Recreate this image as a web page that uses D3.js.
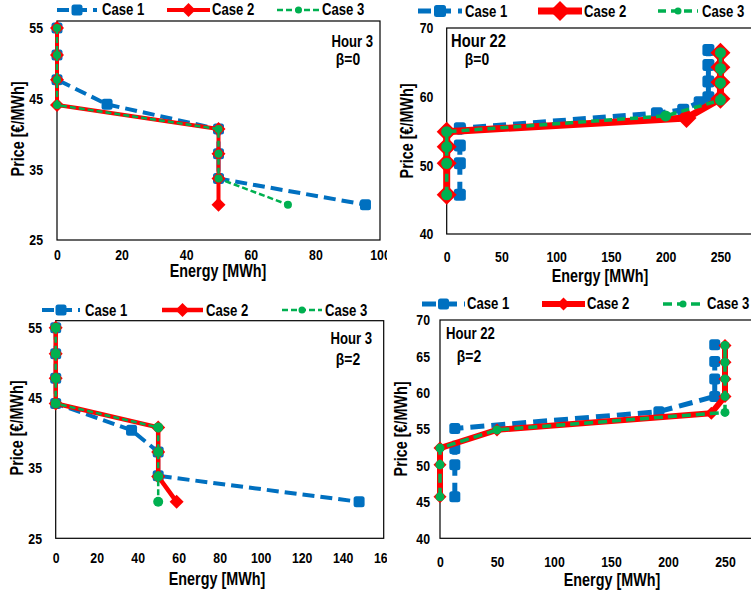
<!DOCTYPE html>
<html>
<head>
<meta charset="utf-8">
<script src="https://cdn.jsdelivr.net/npm/d3@7"></script>
<style>
  body { margin: 0; background: #fff; }
  svg text { font-family: "Liberation Sans", Arial, sans-serif; font-weight: bold; fill: #000; }
</style>
</head>
<body>
<svg id="chart" width="751" height="597"></svg>
<script>
// ---- data: [energy MWh, price €/MWh] ----
const caseNames = ["Case 1", "Case 2", "Case 3"];

// Hour 3, beta = 0
const h3b0Case1 = [[0,55],[0,51.2],[0,47.7],[15.5,44.2],[50,40.7],[50,37.2],[50,33.7],[95.5,30]];
const h3b0Case2 = [[0,55],[0,51.2],[0,47.7],[0,44.1],[50,40.7],[50,37.2],[50,33.7],[50,30]];
const h3b0Case3 = [[0,55],[0,51.2],[0,47.7],[0,44.1],[50,40.7],[50,37.2],[50,33.7],[71.5,30]];

// Hour 22, beta = 0
const h22b0Case1 = [[12,45.7],[12,50.3],[12,52.9],[12,55.4],[192,57.6],[216,58.1],[231,59.2],[239,59.9],[239,62.2],[239,64.6],[239,66.8]];
const h22b0Case2 = [[0,45.7],[0,50.3],[0,52.7],[0,54.9],[219,56.9],[250,59.7],[250,62.1],[250,64.3],[250,66.4]];
const h22b0Case3 = [[0,45.7],[0,50.3],[0,52.7],[0,54.9],[200,57.2],[250,59.5],[250,62],[250,64.1],[250,66.4]];

// Hour 3, beta = 2
const h3b2Case1 = [[0,55],[0,51.3],[0,47.8],[0,44.2],[37,40.4],[50,37.3],[50,33.9],[148,30.2]];
const h3b2Case2 = [[0,55],[0,51.3],[0,47.8],[0,44.2],[50,40.8],[50,37.3],[50,33.8],[59,30.2]];
const h3b2Case3 = [[0,55],[0,51.3],[0,47.8],[0,44.2],[50,40.8],[50,37.3],[50,33.8],[50,30.2]];

// Hour 22, beta = 2
const h22b2Case1 = [[13,45.7],[13,50.1],[13,52.3],[13,55.1],[192,57.4],[241,59.5],[241,61.9],[241,64.3],[241,66.6]];
const h22b2Case2 = [[0,45.7],[0,50.1],[0,52.4],[50,54.9],[238,57.2],[250,59.5],[250,61.9],[250,64.2],[250,66.5]];
const h22b2Case3 = [[0,45.7],[0,50.1],[0,52.4],[50,54.9],[250,57.3],[250,59.5],[250,61.9],[250,64.2],[250,66.5]];

// tick values (the 300 of the Hour 22 axes falls outside the picture)
const xTicksHour3b0 = [0, 20, 40, 60, 80, 100];
const xTicksHour3b2 = [0, 20, 40, 60, 80, 100, 120, 140, 160];
const xTicksHour22 = [0, 50, 100, 150, 200, 250];
const yTicksHour3 = [25, 35, 45, 55];
const yTicksHour22b0 = [40, 50, 60, 70];
const yTicksHour22b2 = [40, 45, 50, 55, 60, 65, 70];

const BLUE = "#0070C0", RED = "#FF0000", GREEN = "#00B050";
const TICK_SIZE = 15, TITLE_SIZE = 17.5, LEGEND_SIZE = 16;
const SQUEEZE = 0.82;   // the original uses a narrow bold face

const svg = d3.select("#chart");

// panel layouts (pixels), built around the arrays above
const panels = [
  {
    clip: [0, 0, 387, 290], series: [h3b0Case1, h3b0Case2, h3b0Case3],
    xDomain: [0, 100], xRange: [57, 380], yDomain: [25, 56], yRange: [240, 21],
    xTicks: xTicksHour3b0, yTicks: yTicksHour3, xBase: 260, yPad: 14,
    xTitle: [218, 277], yTitle: [23.5, 129],
    hour: {text: "Hour 3", x: 373, y: 46.5, anchor: "end", size: 16},
    beta: {text: "β=0", x: 348, y: 65, anchor: "middle", size: 17},
    legend: {y: 10, textY: 15, items: [[57, 97, 102], [167, 210, 212], [277, 320, 322]]},
    style: {w: [4, 4, 2.5], dash: ["12,6", null, "6,3"], blue: 11, dia: 7, r: 4}
  },
  {
    clip: [380, 0, 371, 290], series: [h22b0Case1, h22b0Case2, h22b0Case3],
    xDomain: [0, 300], xRange: [446.7, 775.2], yDomain: [40, 70], yRange: [234, 28],
    xTicks: xTicksHour22, yTicks: yTicksHour22b0, xBase: 261.7, yPad: 13.4,
    xTitle: [600, 282], yTitle: [413, 131],
    hour: {text: "Hour 22", x: 451, y: 46.5, anchor: "start", size: 18},
    beta: {text: "β=0", x: 477, y: 65, anchor: "middle", size: 17},
    legend: {y: 11, textY: 16.5, items: [[418, 462, 465], [538, 582, 584], [658, 698, 702]]},
    style: {w: [5, 7, 3.5], dash: ["13,7", null, "8,5"], blue: 12, dia: 10, r: 5.5}
  },
  {
    clip: [0, 290, 387, 307], series: [h3b2Case1, h3b2Case2, h3b2Case3],
    xDomain: [0, 160], xRange: [55.7, 383.7], yDomain: [25, 56], yRange: [538.3, 320.7],
    xTicks: xTicksHour3b2, yTicks: yTicksHour3, xBase: 563.3, yPad: 13.7,
    xTitle: [217, 585], yTitle: [23, 428],
    hour: {text: "Hour 3", x: 372, y: 344.3, anchor: "end", size: 16},
    beta: {text: "β=2", x: 348, y: 365, anchor: "middle", size: 17},
    legend: {y: 310, textY: 316, items: [[42, 80, 85], [162, 203, 206], [282, 322, 325]]},
    style: {w: [4, 4.5, 2.5], dash: ["12,6", null, "6,3"], blue: 11, dia: 7, r: 5}
  },
  {
    clip: [380, 290, 371, 307], series: [h22b2Case1, h22b2Case2, h22b2Case3],
    xDomain: [0, 300], xRange: [440, 782], yDomain: [40, 70], yRange: [538.3, 320],
    xTicks: xTicksHour22, yTicks: yTicksHour22b2, xBase: 567, yPad: 10,
    xTitle: [612, 585.5], yTitle: [407, 429],
    hour: {text: "Hour 22", x: 446, y: 339.3, anchor: "start", size: 16},
    beta: {text: "β=2", x: 469, y: 361.7, anchor: "middle", size: 17},
    legend: {y: 304, textY: 309.3, items: [[422, 465, 467], [542, 585, 587], [663, 703, 707]]},
    style: {w: [5, 6, 3.5], dash: ["14,7", null, "9,5"], blue: 11, dia: 6.5, r: 4.5}
  }
];

function diamondPath(s) {
  return `M0,${-s}L${s},0L0,${s}L${-s},0Z`;
}

// narrow text: squeezed horizontally around its anchor point
function narrowText(g, x, y, txt, size, anchor, rotate) {
  return g.append("text")
    .attr("transform", `translate(${x},${y})${rotate ? " rotate(-90)" : ""} scale(${SQUEEZE},1)`)
    .attr("text-anchor", anchor || "start")
    .attr("font-size", size)
    .text(txt);
}

// one marker, drawn at (0,0) inside g
function drawMarker(g, idx, st) {
  if (idx === 0) {
    const b = st.blue;
    g.append("rect")
      .attr("x", -b / 2).attr("y", -b / 2)
      .attr("width", b).attr("height", b)
      .attr("rx", 2.5)
      .attr("fill", BLUE);
  } else if (idx === 1) {
    g.append("path")
      .attr("d", diamondPath(st.dia))
      .attr("fill", RED);
  } else {
    g.append("circle")
      .attr("r", st.r)
      .attr("fill", GREEN);
  }
}

function drawPanel(p, k) {
  const colors = [BLUE, RED, GREEN];
  const st = p.style;

  svg.append("clipPath").attr("id", "clip" + k)
    .append("rect")
      .attr("x", p.clip[0]).attr("y", p.clip[1])
      .attr("width", p.clip[2]).attr("height", p.clip[3]);

  const g = svg.append("g").attr("clip-path", `url(#clip${k})`);

  const xScale = d3.scaleLinear().domain(p.xDomain).range(p.xRange);
  const yScale = d3.scaleLinear().domain(p.yDomain).range(p.yRange);

  // plot frame
  g.append("rect")
    .attr("x", p.xRange[0]).attr("y", p.yRange[1])
    .attr("width", p.xRange[1] - p.xRange[0])
    .attr("height", p.yRange[0] - p.yRange[1])
    .attr("fill", "none")
    .attr("stroke", "#000")
    .attr("stroke-width", 1.2);

  // axes (labels only, the frame is the axis line)
  const xPad = p.xBase - p.yRange[0] - 0.71 * TICK_SIZE;
  const xAxis = d3.axisBottom(xScale).tickValues(p.xTicks).tickSize(0).tickPadding(xPad);
  const yAxis = d3.axisLeft(yScale).tickValues(p.yTicks).tickSize(0).tickPadding(p.yPad);

  g.append("g")
    .attr("transform", `translate(0,${p.yRange[0]})`)
    .call(xAxis)
    .call(a => a.select(".domain").remove())
    .selectAll("text")
      .attr("font-size", TICK_SIZE)
      .attr("transform", `scale(${SQUEEZE},1)`);

  g.append("g")
    .attr("transform", `translate(${p.xRange[0]},0)`)
    .call(yAxis)
    .call(a => a.select(".domain").remove())
    .selectAll("text")
      .attr("font-size", TICK_SIZE)
      .attr("x", -p.yPad / SQUEEZE)
      .attr("transform", `scale(${SQUEEZE},1)`);

  // axis titles
  narrowText(g, p.xTitle[0], p.xTitle[1], "Energy [MWh]", TITLE_SIZE, "middle");
  narrowText(g, p.yTitle[0], p.yTitle[1], "Price [€/MWh]", TITLE_SIZE, "middle", true);

  // hour / beta notes
  [p.hour, p.beta].forEach(n => {
    narrowText(g, n.x, n.y, n.text, n.size, n.anchor);
  });

  // series
  const line = d3.line()
    .x(d => xScale(d[0]))
    .y(d => yScale(d[1]));

  p.series.forEach((data, i) => {
    g.append("path")
      .datum(data)
      .attr("d", line)
      .attr("fill", "none")
      .attr("stroke", colors[i])
      .attr("stroke-width", st.w[i])
      .attr("stroke-linejoin", "round")
      .attr("stroke-dasharray", st.dash[i]);

    g.selectAll(".m" + i)
      .data(data)
      .enter()
      .append("g")
        .attr("class", "m" + i)
        .attr("transform", d => `translate(${xScale(d[0])},${yScale(d[1])})`)
        .each(function() { drawMarker(d3.select(this), i, st); });
  });

  // legend
  p.legend.items.forEach((it, i) => {
    g.append("line")
      .attr("x1", it[0]).attr("x2", it[1])
      .attr("y1", p.legend.y).attr("y2", p.legend.y)
      .attr("stroke", colors[i])
      .attr("stroke-width", st.w[i])
      .attr("stroke-dasharray", st.dash[i]);

    const mg = g.append("g")
      .attr("transform", `translate(${(it[0] + it[1]) / 2},${p.legend.y})`);
    drawMarker(mg, i, i === 2 ? Object.assign({}, st, {r: 3.5}) : st);

    narrowText(g, it[2], p.legend.textY, caseNames[i], LEGEND_SIZE, "start");
  });
}

panels.forEach(drawPanel);
</script>
</body>
</html>
